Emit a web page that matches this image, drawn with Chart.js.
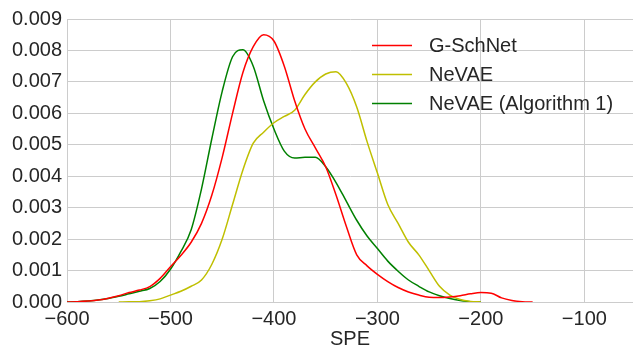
<!DOCTYPE html>
<html>
<head>
<meta charset="utf-8">
<script src="https://cdn.jsdelivr.net/npm/chart.js@4/dist/chart.umd.min.js"></script>
<style>
  html, body { margin: 0; padding: 0; background: #fff; }
  #wrap { width: 633px; height: 348px; }
</style>
</head>
<body>
<div id="wrap"><canvas id="c" width="633" height="348"></canvas></div>
<script>
const xs = [-600, -590, -580, -570, -560, -550, -540, -530, -520, -510,
  -500, -490, -480, -470, -460, -450, -440, -430, -420, -410,
  -400, -390, -380, -370, -360, -350, -340, -330, -320, -310,
  -300, -290, -280, -270, -260, -250, -240, -230, -220, -210,
  -200, -190, -180, -170, -160, -150]

const gschnet = [0, 0.00001, 0.00003, 0.00006, 0.00012, 0.0002, 0.0003, 0.00038, 0.00049, 0.00075,
  0.00112, 0.00148, 0.0019, 0.0025, 0.0034, 0.0046, 0.006, 0.0073, 0.00812, 0.0085,
  0.0083, 0.0075, 0.0064, 0.0055, 0.0049, 0.0043, 0.0034, 0.0024, 0.0015, 0.00115,
  0.00088, 0.00065, 0.00046, 0.00032, 0.00022, 0.00015, 0.00014, 0.00016, 0.0002, 0.00026,
  0.0003, 0.00028, 0.00013, 0.00005, 0.00001, 0]

const nevae = [null, null, null, null, null, 0, 0.000005, 0.00001, 0.00004, 0.0001,
  0.00022, 0.00034, 0.0005, 0.0007, 0.0012, 0.002, 0.0031, 0.0042, 0.00505, 0.0054,
  0.0057, 0.0059, 0.0061, 0.0066, 0.007, 0.00725, 0.00732, 0.00695, 0.0062, 0.0051,
  0.0041, 0.0031, 0.0025, 0.0019, 0.0015, 0.001, 0.0005, 0.00022, 0.00008, 0.00002,
  0, null, null, null, null, null]

const nevaeAlg = [0, 0.00001, 0.00003, 0.00006, 0.00011, 0.00018, 0.00026, 0.00034, 0.00043, 0.00065,
  0.00104, 0.0016, 0.0023, 0.0036, 0.0052, 0.0067, 0.0078, 0.00802, 0.0075, 0.0064,
  0.0055, 0.0048, 0.00458, 0.0046, 0.0046, 0.0043, 0.0038, 0.0032, 0.0026, 0.0021,
  0.0017, 0.0013, 0.00098, 0.0007, 0.0005, 0.00032, 0.0002, 0.00011, 0.00005, 0.00001,
  0, null, null, null, null, null]

const seriesNames = ['G-SchNet', 'NeVAE', 'NeVAE (Algorithm 1)']
const seriesColors = ['#ff0000', '#bfbf00', '#008000']
const xTicks = [-600, -500, -400, -300, -200, -100]
const yTicks = [0, 0.001, 0.002, 0.003, 0.004, 0.005, 0.006, 0.007, 0.008, 0.009]

const FONT = '"Liberation Sans", Arial, sans-serif'
const TEXT = '#262626'

const toPts = (ys) => xs.map((x, i) => ({ x, y: ys[i] }))

const datasets = [gschnet, nevae, nevaeAlg].map((ys, i) => ({
  label: seriesNames[i],
  data: toPts(ys),
  borderColor: seriesColors[i],
  borderWidth: 1.5,
  pointRadius: 0,
  tension: 0.4,
  cubicInterpolationMode: 'monotone',
  spanGaps: false,
  fill: false,
}))

// legend drawn inside the axes, like matplotlib's upper right
const innerLegend = {
  id: 'innerLegend',
  afterDraw(chart) {
    const ctx = chart.ctx
    ctx.save()
    ctx.font = '20px ' + FONT
    ctx.textBaseline = 'middle'
    chart.data.datasets.forEach((ds, i) => {
      const y = 45.5 + i * 29
      ctx.strokeStyle = ds.borderColor
      ctx.lineWidth = 1.5
      ctx.beginPath()
      ctx.moveTo(372, y)
      ctx.lineTo(412, y)
      ctx.stroke()
      ctx.fillStyle = TEXT
      ctx.fillText(ds.label, 429, y + 1)
    })
    ctx.restore()
  },
}

const minus = (v) => String(v).replace('-', '\u2212')

new Chart(document.getElementById('c'), {
  type: 'line',
  data: { datasets },
  plugins: [innerLegend],
  options: {
    responsive: false,
    animation: false,
    layout: { padding: { top: 19, right: 0, left: 0, bottom: 0 } },
    plugins: { legend: { display: false }, tooltip: { enabled: false } },
    scales: {
      x: {
        type: 'linear',
        min: -600,
        max: -53,
        afterBuildTicks: (s) => { s.ticks = xTicks.map((v) => ({ value: v })) },
        afterFit: (s) => { s.height = 46 },
        grid: { color: '#cccccc', lineWidth: 1, drawTicks: false },
        border: { color: '#cccccc' },
        ticks: {
          padding: 5,
          color: TEXT,
          font: { family: FONT, size: 20 },
          maxRotation: 0,
          callback: (v) => minus(v),
        },
        title: {
          display: true,
          text: 'SPE',
          color: TEXT,
          font: { family: FONT, size: 20, lineHeight: 0.9 },
          padding: { top: 0, bottom: 0 },
        },
      },
      y: {
        min: 0,
        max: 0.009,
        afterBuildTicks: (s) => { s.ticks = yTicks.map((v) => ({ value: v })) },
        afterFit: (s) => { s.width = 67 },
        grid: { color: '#cccccc', lineWidth: 1, drawTicks: false },
        border: { color: '#cccccc' },
        ticks: {
          padding: 5,
          color: TEXT,
          font: { family: FONT, size: 20 },
          callback: (v) => v.toFixed(3),
        },
      },
    },
  },
})
</script>
</body>
</html>
